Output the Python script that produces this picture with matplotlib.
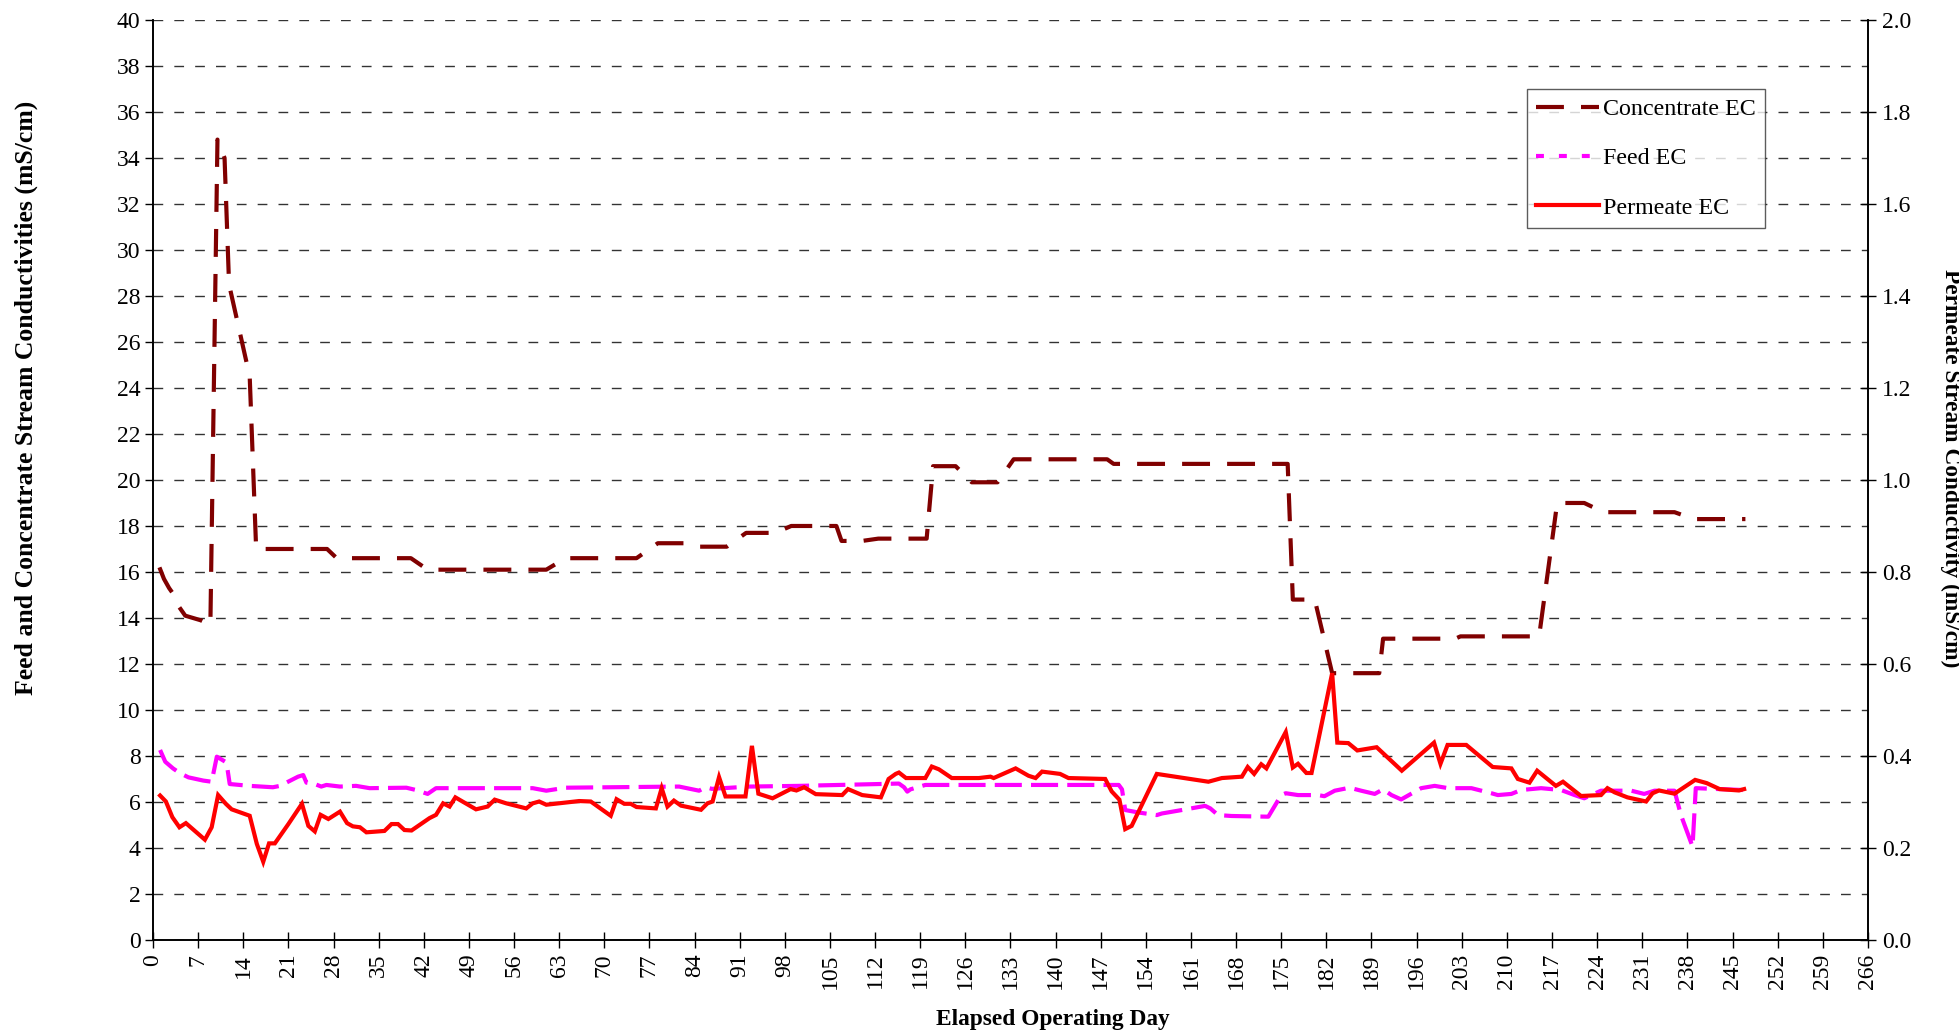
import numpy as np
import matplotlib
matplotlib.use("Agg")
import matplotlib.pyplot as plt
from matplotlib.lines import Line2D
from matplotlib.ticker import FormatStrFormatter

plt.rcParams['font.family'] = ['Liberation Serif', 'DejaVu Serif']

# Concentrate EC (mS/cm, left axis)
conc_days = [1, 1.7, 2.5, 3.5, 4, 5, 7.4, 8.9, 10, 11.1,
             11.8, 15, 16, 27, 28.5, 40, 42.6, 61, 64, 75,
             78.3, 82.5, 84.8, 89, 92, 96.5, 99, 106, 106.8, 110,
             112.5, 120, 121, 124.5, 127, 131, 133.5, 148, 149, 176,
             176.8, 180.2, 182.9, 190.2, 190.8, 202, 202.8, 215, 217.8, 222,
             225, 236, 239, 247]
conc_ec = [16.2, 15.7, 15.3, 14.9, 14.5, 14.1, 13.9, 13.7, 34.8, 34.0,
           28.5, 24.5, 17.0, 17.0, 16.6, 16.6, 16.1, 16.1, 16.6, 16.6,
           17.25, 17.25, 17.1, 17.1, 17.7, 17.7, 18.0, 18.0, 17.35, 17.35,
           17.45, 17.45, 20.6, 20.6, 19.9, 19.9, 20.9, 20.9, 20.7, 20.7,
           14.8, 14.8, 11.6, 11.6, 13.1, 13.1, 13.2, 13.2, 19.0, 19.0,
           18.6, 18.6, 18.3, 18.3]

# Feed EC (mS/cm, left axis)
feed_days = [1.1, 1.9, 3.1, 4.2, 5.5, 7.8, 9.1, 9.9, 11.2, 11.5,
             11.9, 15, 18.6, 19.7, 22.5, 23.3, 23.8, 25.1, 26.1, 26.9,
             29, 31.5, 33.6, 39.3, 40.8, 42.6, 43.9, 54.8, 58.9, 61,
             64, 81.6, 84.7, 85.7, 86.7, 92.5, 100.2, 115.7, 116.5, 117,
             117.5, 119.8, 149.8, 150.3, 150.8, 152.9, 155.7, 156.5, 159.6, 163.2,
             164, 165.2, 167.3, 173, 175, 175.7, 177.6, 180.7, 181.7, 183.3,
             185.6, 187.4, 189.5, 190.8, 192.1, 193.6, 196.7, 198.8, 200.9, 204.5,
             207.6, 208.6, 210.7, 212.2, 215.3, 218.4, 220.5, 222, 224.6, 229.3,
             231.3, 232.9, 236, 237, 238.8, 239.3, 246.6]
feed_ec = [8.26, 7.75, 7.46, 7.25, 7.07, 6.93, 6.88, 7.97, 7.75, 7.53,
           6.78, 6.7, 6.64, 6.7, 7.1, 7.17, 6.84, 6.78, 6.67, 6.74,
           6.67, 6.7, 6.6, 6.62, 6.52, 6.35, 6.6, 6.6, 6.6, 6.49,
           6.62, 6.67, 6.49, 6.64, 6.57, 6.67, 6.7, 6.8, 6.64, 6.45,
           6.55, 6.74, 6.74, 6.55, 5.65, 5.54, 5.43, 5.5, 5.65, 5.83,
           5.72, 5.43, 5.39, 5.36, 6.3, 6.38, 6.3, 6.3, 6.25, 6.49,
           6.62, 6.49, 6.35, 6.55, 6.3, 6.11, 6.6, 6.7, 6.6, 6.6,
           6.38, 6.3, 6.35, 6.52, 6.6, 6.52, 6.3, 6.16, 6.49, 6.49,
           6.35, 6.49, 6.49, 5.43, 4.06, 6.6, 6.52]

# Permeate EC (mS/cm, right axis)
perm_days = [1.1, 2, 3, 4.1, 5.1, 8.05, 9.1, 10.1, 11.3, 12.2,
             15, 16.1, 17.1, 18, 18.9, 21, 23.1, 24.1, 25.1, 26,
             27.2, 29, 30.1, 31, 32.1, 33.1, 35.9, 37, 38, 39,
             40.1, 42.9, 43.9, 45, 46, 46.9, 50.1, 51.9, 53, 54.8,
             57.9, 58.9, 59.9, 61, 64.1, 66.1, 67.9, 71, 71.9, 73.1,
             74.1, 75, 78, 78.9, 79.8, 80.8, 81.9, 85, 86, 86.8,
             87.8, 88.8, 91.9, 92.9, 93.9, 96.1, 98.9, 99.8, 101, 102.8,
             106.9, 107.8, 110, 112.9, 114.1, 115.2, 115.7, 116.8, 119.8, 120.8,
             121.9, 123.9, 128.1, 129.9, 130.4, 133.8, 135.8, 136.9, 137.9, 140.7,
             142, 147.7, 148.7, 149.9, 150.8, 151.8, 155.7, 163.7, 165.8, 168.9,
             169.8, 170.8, 171.9, 172.7, 175.7, 176.8, 177.6, 178.9, 179.7, 182.9,
             183.7, 185.4, 186.8, 189.8, 193.7, 198.7, 199.7, 200.8, 203.7, 207.8,
             210.7, 211.7, 213.5, 214.7, 217.6, 218.7, 221.5, 224.6, 225.6, 226.7,
             228.7, 231.6, 232.6, 233.6, 236, 239.2, 241, 243, 246, 246.8]
perm_ec = [0.314, 0.301, 0.267, 0.245, 0.254, 0.218, 0.245, 0.315, 0.296, 0.284,
           0.270, 0.209, 0.170, 0.210, 0.210, 0.252, 0.296, 0.248, 0.236, 0.272,
           0.263, 0.279, 0.254, 0.247, 0.245, 0.234, 0.237, 0.252, 0.252, 0.239,
           0.238, 0.265, 0.272, 0.297, 0.290, 0.310, 0.284, 0.290, 0.305, 0.297,
           0.286, 0.297, 0.301, 0.294, 0.299, 0.302, 0.301, 0.270, 0.306, 0.296,
           0.296, 0.289, 0.286, 0.330, 0.290, 0.303, 0.292, 0.283, 0.297, 0.301,
           0.354, 0.312, 0.312, 0.422, 0.318, 0.308, 0.328, 0.325, 0.332, 0.317,
           0.315, 0.328, 0.315, 0.310, 0.350, 0.361, 0.364, 0.352, 0.352, 0.377,
           0.371, 0.352, 0.352, 0.355, 0.352, 0.373, 0.357, 0.352, 0.366, 0.361,
           0.352, 0.350, 0.323, 0.305, 0.241, 0.248, 0.361, 0.344, 0.352, 0.355,
           0.376, 0.361, 0.382, 0.373, 0.452, 0.375, 0.383, 0.363, 0.363, 0.580,
           0.429, 0.428, 0.412, 0.419, 0.368, 0.429, 0.383, 0.424, 0.424, 0.376,
           0.373, 0.350, 0.342, 0.368, 0.335, 0.344, 0.313, 0.315, 0.330, 0.321,
           0.310, 0.301, 0.319, 0.325, 0.318, 0.348, 0.341, 0.328, 0.325, 0.328]

x_ticks = np.arange(0, 267, 7)
left_ticks = np.arange(0, 41, 2)
right_ticks = np.arange(0, 2.01, 0.2)

FS = 17          # tick labels
FS_LEG = 17.3
conc_col = '#800000'
feed_col = '#FF00FF'
perm_col = '#FF0000'

fig = plt.figure(figsize=(19.59, 10.31), dpi=100)
ax = fig.add_axes([0.0781, 0.0883, 0.8754, 0.8923])
ax2 = ax.twinx()

ax.plot(conc_days, conc_ec, color=conc_col, lw=3, dashes=(6.7, 4.1), zorder=3)
ax.plot(feed_days, feed_ec, color=feed_col, lw=3, dashes=(6.5, 2.2), zorder=3)
ax2.plot(perm_days, perm_ec, color=perm_col, lw=3, solid_joinstyle='miter')

ax.set_xlim(0, 266)
ax.set_ylim(0, 40)
ax2.set_ylim(0, 2)
ax.set_xticks(x_ticks)
ax.set_yticks(left_ticks)
ax2.set_yticks(right_ticks)
ax2.yaxis.set_major_formatter(FormatStrFormatter('%.1f'))

ax.yaxis.grid(True, linestyle=(0, (7, 8)), color='#333333', lw=1)
ax.set_axisbelow(True)

for a in (ax, ax2):
    a.spines['top'].set_visible(False)
    for s in ('left', 'right', 'bottom'):
        a.spines[s].set_linewidth(1.2)
ax.tick_params(axis='x', direction='inout', length=12, width=1, labelsize=FS,
               labelrotation=90, pad=4)
ax.tick_params(axis='y', direction='out', length=6, width=1, labelsize=FS, pad=3)
ax2.tick_params(axis='y', direction='inout', length=12, width=1, labelsize=FS, pad=4)

ax.set_xlabel('Elapsed Operating Day', fontsize=16.8, fontweight='bold', va='center')
ax.xaxis.set_label_coords(0.525, -0.086)
ax.set_ylabel('Feed and Concentrate Stream Conductivities (mS/cm)',
              fontsize=18.5, fontweight='bold', va='center')
ax.yaxis.set_label_coords(-0.074, 0.589)
ax2.set_ylabel('Permeate Stream Conductivity (mS/cm)', fontsize=16.8,
               fontweight='bold', rotation=270, va='center')
ax2.yaxis.set_label_coords(1.0484, 0.513)

handles = [
    Line2D([], [], color=conc_col, lw=3, dashes=(6.7, 4.1)),
    Line2D([], [], color=feed_col, lw=3, dashes=(1.9, 3.6)),
    Line2D([], [], color=perm_col, lw=3),
]
labels = ['Concentrate EC', 'Feed EC', 'Permeate EC']
leg = ax2.legend(handles, labels, loc='upper left', bbox_to_anchor=(0.801, 0.925),
                 fontsize=FS_LEG, frameon=True, fancybox=False, edgecolor='#333333',
                 handlelength=2.65, handletextpad=0.15, labelspacing=1.15,
                 borderpad=0.38, borderaxespad=0)
leg.get_frame().set_linewidth(1)

fig.savefig('out.png', dpi=100)
